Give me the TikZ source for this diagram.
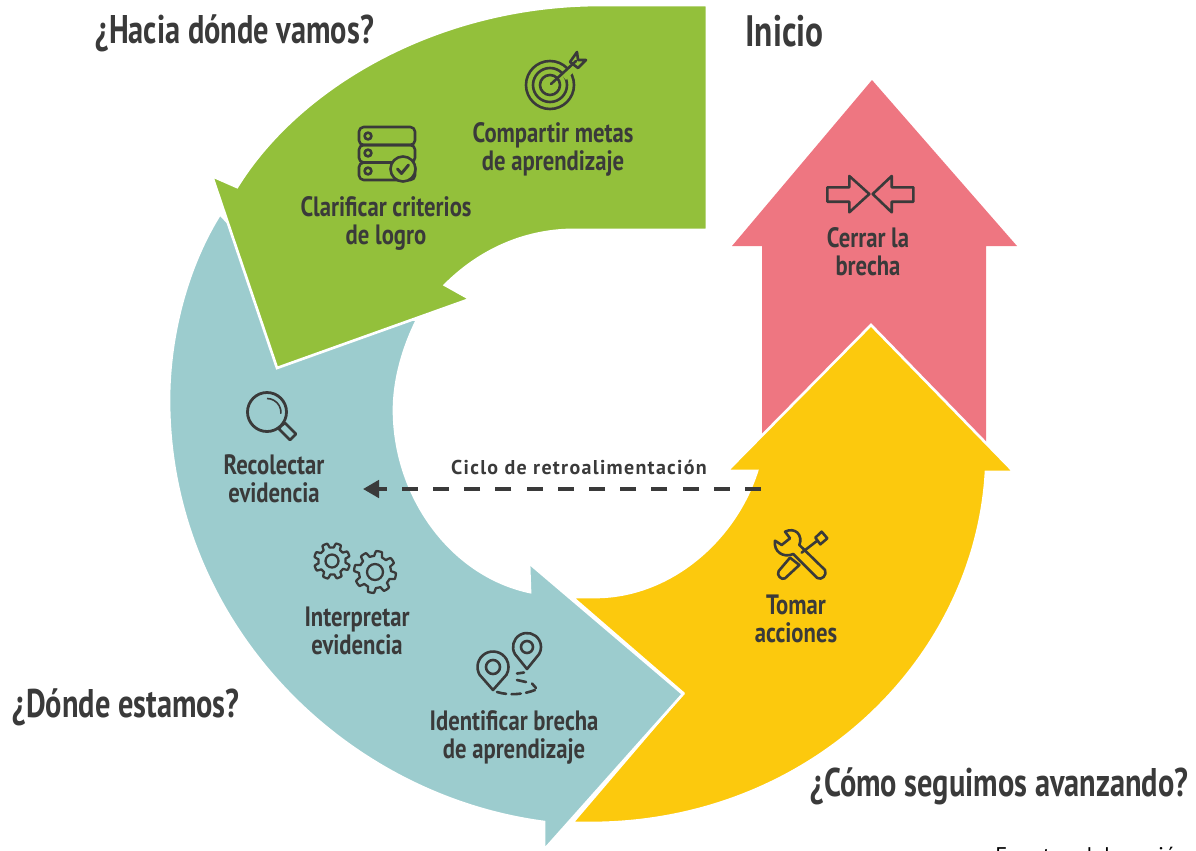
\documentclass[tikz,border=0pt]{standalone}
\usepackage{fontspec}
\usetikzlibrary{arrows.meta}
\newfontfamily\labfont[FakeStretch=0.81]{PT Sans}
\newfontfamily\hfont[FakeStretch=0.76]{PT Sans}
\newfontfamily\cicfont[LetterSpace=6.5]{PT Sans}
\setmainfont{PT Sans}
\definecolor{ink}{HTML}{3A3A3A}
\definecolor{cgreen}{HTML}{93C03B}
\definecolor{cteal}{HTML}{9CCCCE}
\definecolor{cyellow}{HTML}{FCC90D}
\definecolor{cred}{HTML}{EE7681}
\tikzset{
  band/.style={draw=white,line width=2pt,line join=miter},
  lab/.style={text=ink,align=center,inner sep=0pt,font=\labfont\bfseries\fontsize{21}{21}\selectfont},
  head/.style={text=ink,anchor=west,inner sep=0pt,font=\hfont\bfseries\fontsize{30}{30}\selectfont},
  icon/.style={draw=ink,line width=1.95pt,line join=round,line cap=round},
}
\begin{document}
\begin{tikzpicture}[x=0.75pt,y=-0.75pt]
\useasboundingbox (0,0) rectangle (1196,850);
% red
\fill[cred] (872,80) -- (1017,246) -- (986,246) -- (986,445) -- (762,445) -- (762,246) -- (732,246) -- cycle;
% yellow
\filldraw[fill=cyellow,band] (572,597) -- (595,597) .. controls (670,597) and (735,540) .. (757,471) -- (727,471) -- (871,325) -- (1014,472) -- (986,472) .. controls (975,660) and (810,823) .. (590,823) -- (572,823) -- (683,693) -- cycle;
% teal
\filldraw[fill=cteal,band] (220,214) .. controls (185,270) and (169,340) .. (169,400) .. controls (169,620) and (340,795) .. (544,822) -- (544,850) -- (683,694) -- (529,563) -- (530,592) .. controls (450,575) and (394,495) .. (394,410) .. controls (394,380) and (403,348) .. (417,320) -- (300,300) -- cycle;
% green
\filldraw[fill=cgreen,band] (707,5) -- (707,230) -- (567,230) .. controls (520,232) and (478,252) .. (445,285) -- (470,299) -- (277,368) -- (212,176) -- (237,187) .. controls (300,85) and (440,5) .. (600,5) -- cycle;

% headings
\node[head] (h1) at (95,33) {¿Hacia dónde vamos?};
\node[head,font=\hfont\bfseries\fontsize{33}{33}\selectfont] (h2) at (745,31) {Inicio};
\node[head] (h3) at (12,707) {¿Dónde estamos?};
\node[head] (h4) at (810,786) {¿Cómo seguimos avanzando?};
% labels
\node[lab] (l1) at (553,149) {Compartir metas\\de aprendizaje};
\node[lab] (l2) at (386,223) {Clarificar criterios\\de logro};
\node[lab] (l3) at (868,252) {Cerrar la\\brecha};
\node[lab] (l4) at (274,479) {Recolectar\\evidencia};
\node[lab] (l5) at (357,631) {Interpretar\\evidencia};
\node[lab] (l6) at (514,737) {Identificar brecha\\de aprendizaje};
\node[lab] (l7) at (796,619) {Tomar\\acciones};
\node[text=ink,inner sep=0pt,font=\cicfont\bfseries\fontsize{15}{15}\selectfont] (ciclo) at (579,467) {Ciclo de retroalimentación};
\node[anchor=base west,inner sep=0pt,text=black,font=\fontsize{17}{17}\selectfont] (src) at (995,863) {Fuente: elaboración};
% dashed connector
\coordinate (fbs) at (761,489);
\coordinate (fbe) at (363,489);
\draw[ink,line width=2.8pt,dash pattern=on 12pt off 11.4pt,-{Triangle[length=12pt,width=13pt]}] (fbs) -- (fbe);

% target
\draw[icon] (550,85) circle (24) (550,85) circle (17) (550,85) circle (10);
\fill[cgreen] (561,74) -- (574,63) -- (578,67) -- (566,80) -- cycle;
\draw[icon] (551,84) -- (576,61) (570,62) -- (577,52) -- (578,60) -- (586,60) -- (578,68) -- cycle;
% server
\draw[icon,rounded corners=3.5pt] (359,127) rectangle (415,145);
\draw[icon,rounded corners=3.5pt] (359,145) rectangle (415,162.5);
\draw[icon,rounded corners=3.5pt] (359,162.5) rectangle (415,180);
\draw[icon] (368,136) circle (3.4) (368,153) circle (3.4) (368,171) circle (3.4);
\filldraw[icon,fill=cgreen] (403,169) circle (12.5);
\draw[icon,line width=2.2pt] (397.5,169) -- (401.5,173.5) -- (408.5,165);
% magnifier
\draw[icon,line width=2.1pt] (267,412) circle (19.5);
\draw[ink,line width=1.2pt] (267,398.5) arc (-90:5:14);
\draw[icon] (281,426) -- (285,423) -- (296,434) -- (290,440) -- (279,429) -- cycle;
% gears
\begin{scope}[shift={(332,561)}]
\draw[icon,line width=1.7pt] plot[domain=0:360,samples=145] (\x+10:{13.5+4.5*min(1,max(0,0.5+1.3*sin(8*\x)))}) -- cycle;
\draw[icon,line width=1.7pt] (0,0) circle (6.5);
\end{scope}
\begin{scope}[shift={(375,572)}]
\draw[icon,line width=1.7pt] plot[domain=0:360,samples=145] (\x:{16+5*min(1,max(0,0.5+1.3*sin(8*\x)))}) -- cycle;
\draw[icon,line width=1.7pt] (0,0) circle (8);
\end{scope}
% pins
\draw[icon] (527,669) -- (514.9,654) arc (150:390:14) -- cycle;
\draw[icon] (527,647) circle (6);
\draw[icon] (493,690) -- (479.6,674.75) arc (150:390:15.5) -- cycle;
\draw[icon] (493,667) circle (7);
\draw[icon] (517,673.5) -- (524,672.5) (517,680) -- (526,682) (532,683.5) -- (536,688);
\draw[icon,dash pattern=on 7pt off 4pt] (497,692) .. controls (510,696) and (525,694) .. (535,690);
% closing arrows
\draw[icon] (827.3,187.3) -- (849.3,187.3) -- (849.3,176) -- (869.3,194) -- (849.3,212.3) -- (849.3,201.7) -- (827.3,201.7) -- cycle;
\draw[icon] (913.3,187.3) -- (891.7,187.3) -- (891.7,176) -- (872.7,194) -- (891.7,212.3) -- (891.7,201.7) -- (913.3,201.7) -- cycle;
% tools
\begin{scope}[shift={(740,510)},x=0.25pt,y=-0.25pt]
\draw[icon] (105,92) -- (125,105) -- (150,85) -- (135,65) .. controls (165,50) and (190,75) .. (178,105) -- (255,180) .. controls (262,195) and (245,212) .. (232,204) -- (160,132) .. controls (130,145) and (100,125) .. (105,92) -- cycle;
\draw[icon] (185,128) -- (232,92);
\draw[icon] (226,83) -- (245,65) -- (262,85) -- (241,103) -- cycle;
\draw[icon] (150,143) -- (178,165) -- (135,205) .. controls (125,212) and (108,195) .. (116,183) -- cycle;
\end{scope}
\end{tikzpicture}
\end{document}
